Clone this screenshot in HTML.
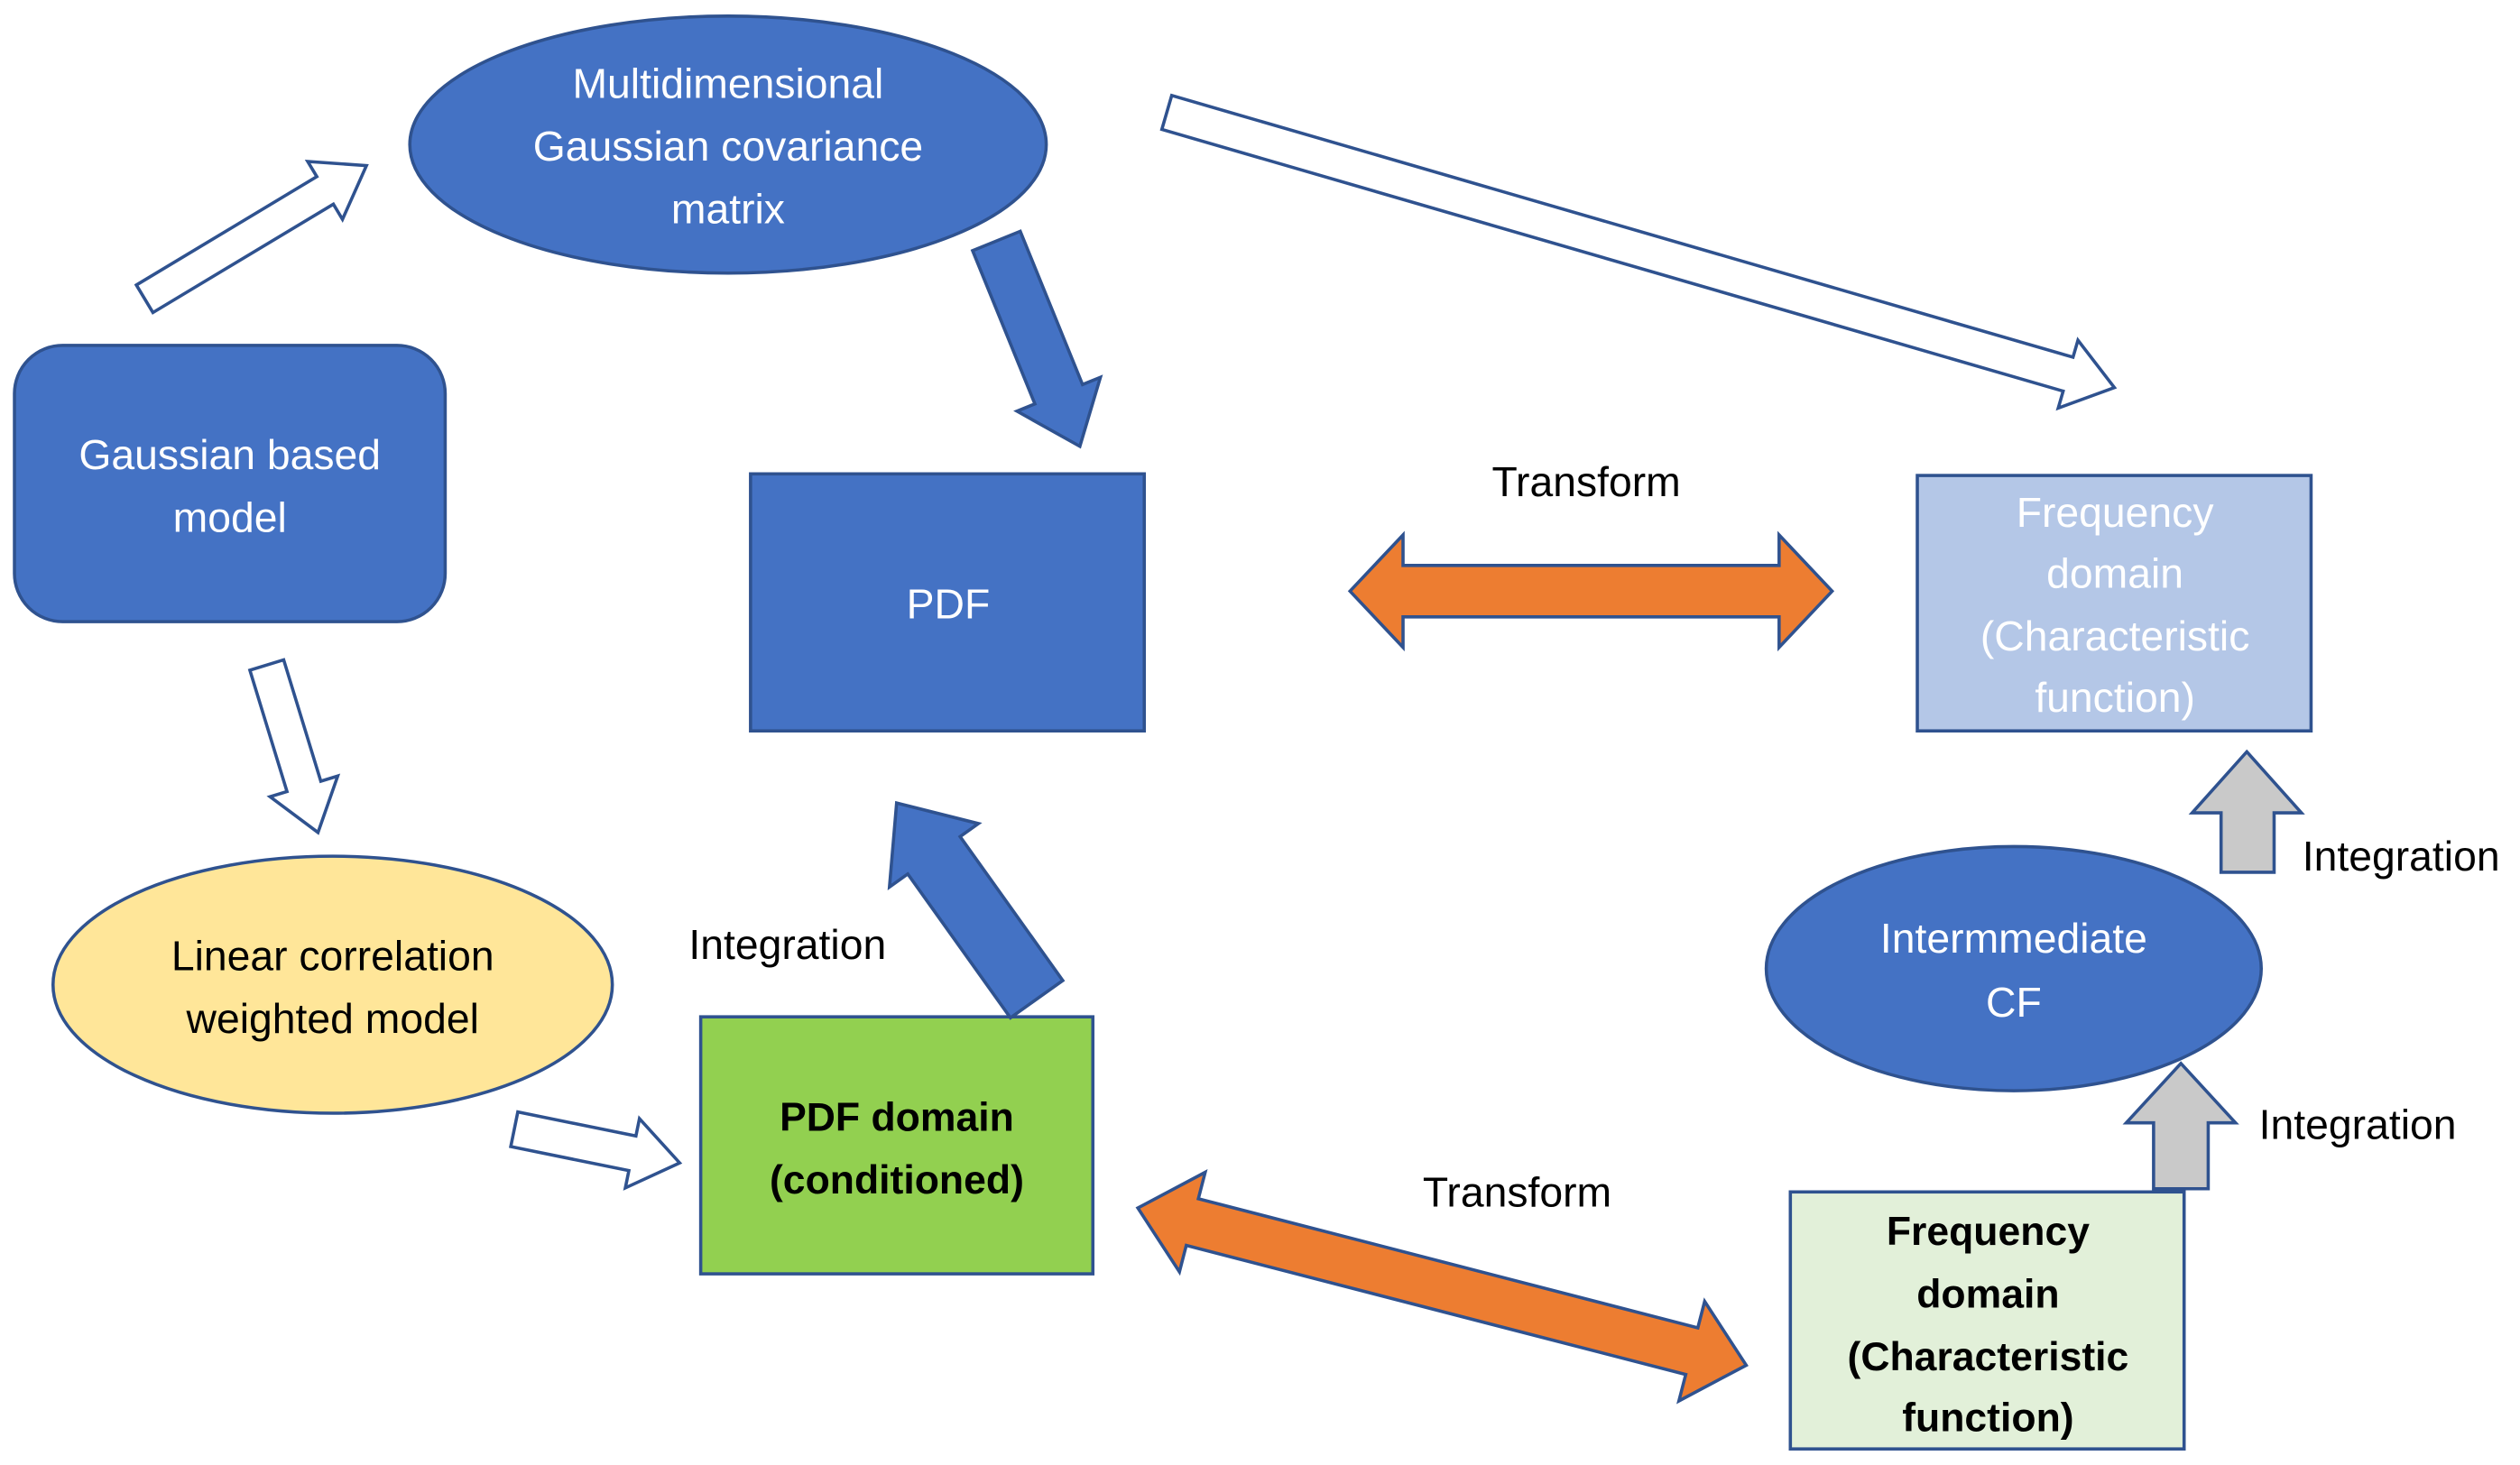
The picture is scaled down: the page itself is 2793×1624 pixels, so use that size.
<!DOCTYPE html>
<html><head><meta charset="utf-8"><style>
html,body{margin:0;padding:0;background:#fff;}
svg{display:block;}
text{font-family:"Liberation Sans",sans-serif;font-size:26px;text-anchor:middle;}
.w{fill:#fff;}
.b{fill:#000;}
.bb{fill:#000;font-weight:bold;font-size:25px;}
</style></head><body>
<svg width="2793" height="1624" viewBox="0 0 1568 912" preserveAspectRatio="none" xmlns="http://www.w3.org/2000/svg">
<g stroke="#2F528F" stroke-width="2">
<ellipse cx="453" cy="90" rx="198" ry="80" fill="#4472C4"/>
<rect x="9" y="215" width="268" height="172" rx="30" fill="#4472C4"/>
<rect x="467" y="295" width="245" height="160" fill="#4472C4"/>
<rect x="1193" y="296" width="245" height="159" fill="#B4C7E7"/>
<ellipse cx="207" cy="613" rx="174" ry="80" fill="#FFE699"/>
<rect x="436" y="633" width="244" height="160" fill="#92D050"/>
<ellipse cx="1253" cy="603" rx="154" ry="76" fill="#4472C4"/>
<rect x="1114" y="742" width="245" height="160" fill="#E2F0D9"/>

<g fill="#fff">
<polygon transform="translate(90,186) rotate(-31)" points="0,-10 131,-10 131,-21 161,0 131,21 131,10 0,10"/>
<polygon transform="translate(166,414) rotate(73)" points="0,-11 79,-11 79,-22 109,0 79,22 79,11 0,11"/>
<polygon transform="translate(320,703) rotate(11.5)" points="0,-11 75,-11 75,-22 105,0 75,22 75,11 0,11"/>
<polygon transform="translate(726,70) rotate(16.2)" points="0,-11 584,-11 584,-22 614,0 584,22 584,11 0,11"/>
</g>
<g fill="#4472C4">
<polygon transform="translate(620,150) rotate(67.9)" points="0,-16 103,-16 103,-28 138,0 103,28 103,16 0,16"/>
<polygon transform="translate(645,622) rotate(-125.5)" points="0,-20 110,-20 110,-34 150,0 110,34 110,20 0,20"/>
</g>
<g fill="#ED7D31">
<polygon points="840,368 873,333 873,352 1107,352 1107,333 1140,368 1107,403 1107,384 873,384 873,403"/>
<polygon transform="translate(708,752) rotate(14.5)" points="0,0 35,-32 35,-15 356,-15 356,-32 391,0 356,32 356,15 35,15 35,32"/>
</g>
<g fill="#C9C9C9">
<polygon points="1398,468 1432,506 1415,506 1415,543 1382,543 1382,506 1364,506"/>
<polygon points="1357,662 1391,699 1374,699 1374,740 1340,740 1340,699 1323,699"/>
</g>
</g>

<text class="w" x="453" y="61">Multidimensional</text>
<text class="w" x="453" y="100">Gaussian covariance</text>
<text class="w" x="453" y="139">matrix</text>
<text class="w" x="143" y="292">Gaussian based</text>
<text class="w" x="143" y="331">model</text>
<text class="w" x="590" y="385">PDF</text>
<text class="w" x="1316" y="328">Frequency</text>
<text class="w" x="1316" y="366">domain</text>
<text class="w" x="1316" y="405">(Characteristic</text>
<text class="w" x="1316" y="443">function)</text>
<text class="b" x="207" y="604">Linear correlation</text>
<text class="b" x="207" y="643">weighted model</text>
<text class="bb" x="558" y="704">PDF domain</text>
<text class="bb" x="558" y="743">(conditioned)</text>
<text class="w" x="1253" y="593">Intermmediate</text>
<text class="w" x="1253" y="633">CF</text>
<text class="bb" x="1237" y="775">Frequency</text>
<text class="bb" x="1237" y="814">domain</text>
<text class="bb" x="1237" y="853">(Characteristic</text>
<text class="bb" x="1237" y="891">function)</text>
<text class="b" x="987" y="309">Transform</text>
<text class="b" x="944" y="751">Transform</text>
<text class="b" x="490" y="597">Integration</text>
<text class="b" x="1494" y="542">Integration</text>
<text class="b" x="1467" y="709">Integration</text>
</svg>
</body></html>
